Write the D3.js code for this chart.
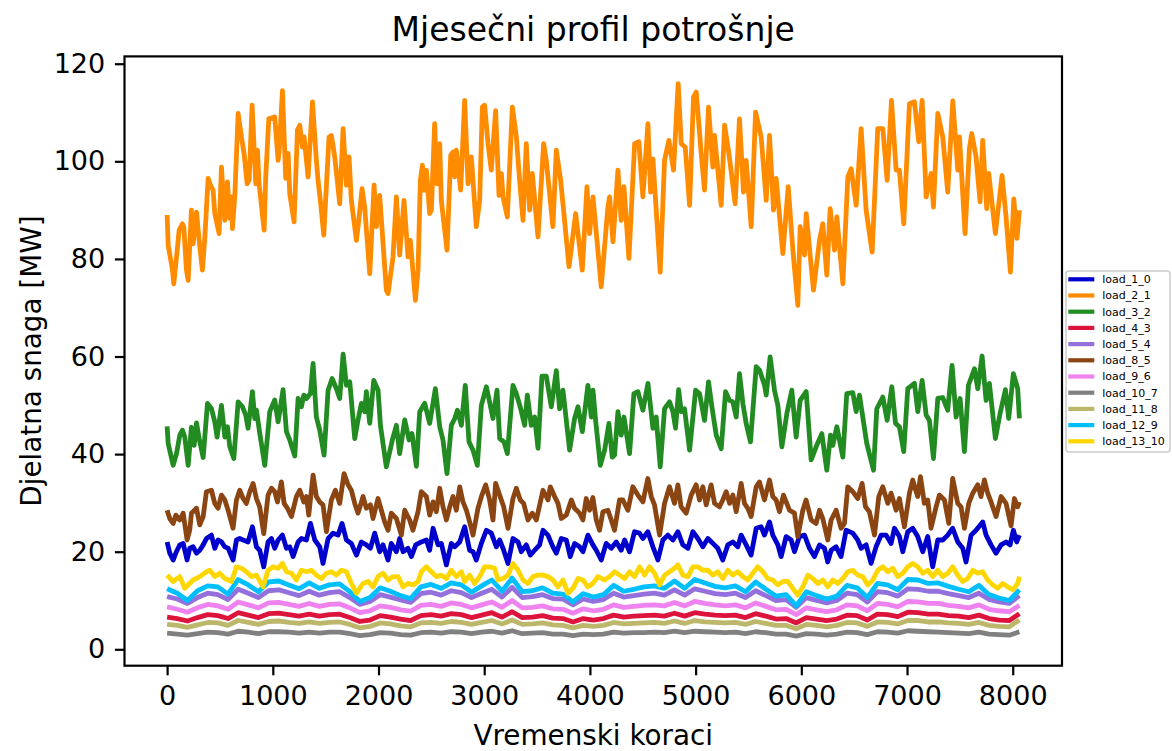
<!DOCTYPE html>
<html>
<head>
<meta charset="utf-8">
<script src="https://cdn.jsdelivr.net/npm/d3@7"></script>
<style>
  body { margin: 0; background: #fff; }
  text { font-family: "DejaVu Sans", sans-serif; fill: #000; }
</style>
</head>
<body>
<svg id="chart" width="1172" height="751"></svg>
<script>
// tick labels
const xTicks = [0, 1000, 2000, 3000, 4000, 5000, 6000, 7000, 8000];
const yTicks = [0, 20, 40, 60, 80, 100, 120];

const loadNames = ['load_1_0', 'load_2_1', 'load_3_2', 'load_4_3', 'load_5_4', 'load_8_5',
                   'load_9_6', 'load_10_7', 'load_11_8', 'load_12_9', 'load_13_10'];
const loadColors = ['#0000cd', '#ff8c00', '#228b22', '#dc143c', '#9370db', '#8b4513',
                    '#ee82ee', '#808080', '#bdb76b', '#00bfff', '#ffd700'];

// [time step, MW] (peaks and dips)
const load_2_1 = [[0,89.0],[10,82.8],[51,77.7],[63,74.9],[89,80.4],[114,85.9],[145,87.2],[158,86.5],[183,77.7],[199,75.6],
  [230,90.0],[246,83.1],[278,89.6],[303,83.8],[334,77.7],[357,84.5],[388,96.5],[410,95.1],[435,94.1],[451,89.3],
  [492,85.2],[514,98.8],[546,87.9],[571,95.8],[593,88.3],[609,92.7],[618,86.2],[640,92.7],[672,109.8],[703,105.0],
  [728,101.6],[757,95.4],[776,96.1],[804,111.5],[839,95.4],[855,102.3],[870,95.4],[918,85.9],[933,96.8],[962,108.7],
  [1018,109.1],[1050,100.2],[1059,101.9],[1091,114.5],[1122,96.5],[1145,101.6],[1160,93.4],[1201,87.6],[1233,106.4],[1255,107.4],
  [1280,102.9],[1296,105.0],[1334,96.8],[1375,112.2],[1412,100.2],[1428,96.1],[1453,91.3],[1482,84.9],[1532,105.0],[1554,105.3],
  [1586,100.9],[1633,91.3],[1665,106.7],[1696,95.1],[1721,100.9],[1743,92.0],[1791,83.8],[1813,87.9],[1844,94.4],[1869,90.6],
  [1917,77.0],[1958,95.1],[1980,86.6],[2011,93.0],[2074,73.6],[2090,72.9],[2137,80.4],[2169,92.7],[2200,80.8],[2241,92.0],
  [2279,80.4],[2301,83.8],[2349,71.5],[2374,77.7],[2396,96.1],[2415,99.2],[2430,94.1],[2453,98.2],[2484,89.3],[2500,90.0],
  [2531,107.7],[2553,95.4],[2579,103.6],[2594,92.0],[2648,81.8],[2683,101.2],[2705,101.9],[2721,96.8],[2736,102.3],[2777,94.1],
  [2815,112.5],[2847,95.4],[2878,100.9],[2925,86.6],[2957,92.0],[2982,111.1],[3004,111.5],[3036,103.6],[3067,98.2],[3108,110.4],
  [3140,93.0],[3162,97.5],[3178,92.7],[3219,88.6],[3266,111.1],[3304,105.0],[3335,96.1],[3367,87.9],[3398,103.6],[3430,90.0],
  [3455,97.5],[3509,84.5],[3562,103.6],[3587,100.2],[3650,86.6],[3682,102.3],[3723,96.1],[3754,89.3],[3802,78.4],[3865,89.3],
  [3928,77.7],[3972,94.8],[3997,85.2],[4029,92.7],[4107,74.3],[4170,90.6],[4186,92.7],[4218,83.5],[4265,98.2],[4296,87.9],
  [4322,94.8],[4369,80.1],[4423,103.6],[4463,104.0],[4501,92.7],[4549,107.7],[4574,93.7],[4596,100.5],[4665,77.3],[4706,100.2],
  [4747,104.3],[4791,98.2],[4835,115.9],[4864,103.6],[4902,102.9],[4943,91.0],[4980,113.2],[5006,114.2],[5053,101.6],[5084,94.1],
  [5122,111.1],[5163,98.8],[5179,105.3],[5242,91.0],[5274,107.4],[5315,101.6],[5374,91.3],[5415,108.7],[5453,93.7],[5478,100.2],
  [5526,86.6],[5567,110.1],[5620,105.0],[5668,92.0],[5699,105.3],[5737,90.0],[5762,96.5],[5825,81.1],[5876,94.8],[5920,81.8],
  [5967,70.5],[5989,86.6],[6030,80.8],[6046,89.3],[6115,73.6],[6172,83.8],[6203,87.2],[6241,76.7],[6273,90.3],[6314,81.8],
  [6336,88.6],[6393,74.9],[6440,96.8],[6471,98.5],[6519,91.0],[6566,106.7],[6613,90.0],[6670,81.4],[6723,106.7],[6771,106.7],
  [6812,96.1],[6853,112.5],[6897,98.2],[6928,98.2],[6969,87.2],[7023,111.8],[7070,112.2],[7111,104.0],[7143,112.5],[7181,92.7],
  [7228,97.5],[7250,90.6],[7291,109.8],[7338,105.0],[7385,93.7],[7433,112.4],[7480,98.2],[7496,105.0],[7549,85.2],[7590,102.6],
  [7612,105.7],[7653,100.9],[7691,91.7],[7716,104.3],[7754,90.3],[7773,97.5],[7836,85.2],[7899,97.1],[7937,88.6],[7978,77.3],
  [8010,92.3],[8041,84.2],[8063,90.0]];

const load_3_2 = [[0,45.7],[10,42.2],[57,37.7],[89,40.1],[120,43.9],[145,44.9],[167,43.5],[199,37.7],[230,45.5],[256,41.8],
  [278,46.4],[303,43.2],[341,39.3],[382,50.4],[420,49.3],[451,46.6],[473,43.5],[514,50.0],[546,43.5],[571,45.6],
  [593,41.5],[631,39.1],[672,50.7],[713,49.7],[744,48.0],[766,45.3],[807,52.8],[829,47.3],[845,49.0],[877,44.2],
  [924,37.7],[971,48.7],[1018,51.1],[1050,46.6],[1097,53.2],[1129,44.6],[1160,42.9],[1208,39.6],[1239,51.4],[1271,49.7],
  [1293,52.1],[1318,51.4],[1356,52.4],[1381,58.6],[1412,47.6],[1444,44.9],[1485,39.8],[1523,53.1],[1561,55.5],[1602,53.4],
  [1633,51.4],[1665,60.5],[1696,54.1],[1728,54.8],[1775,43.2],[1806,47.0],[1838,50.4],[1869,48.7],[1885,52.8],[1917,46.3],
  [1955,55.1],[1996,53.1],[2018,45.9],[2074,37.4],[2131,42.9],[2169,45.9],[2200,40.1],[2248,47.0],[2289,42.9],[2317,44.2],
  [2358,37.5],[2390,48.7],[2437,50.4],[2484,46.3],[2538,53.4],[2579,45.6],[2610,42.9],[2648,36.0],[2689,45.9],[2721,47.3],
  [2746,49.0],[2784,45.9],[2821,54.1],[2856,42.5],[2894,40.8],[2935,37.7],[2973,50.0],[3020,53.8],[3051,50.7],[3083,47.3],
  [3121,53.1],[3146,43.2],[3187,42.5],[3219,40.1],[3272,54.1],[3304,52.4],[3345,49.3],[3382,45.9],[3408,52.1],[3445,45.9],
  [3477,47.6],[3509,41.2],[3546,56.0],[3587,56.0],[3635,49.7],[3682,57.1],[3713,49.3],[3745,53.1],[3808,40.8],[3855,47.3],
  [3887,49.7],[3928,44.6],[3981,54.1],[4013,47.6],[4029,53.1],[4054,46.9],[4098,37.7],[4139,40.8],[4180,46.3],[4211,39.4],
  [4233,39.8],[4265,48.7],[4296,43.9],[4322,47.6],[4375,40.1],[4416,52.4],[4454,52.8],[4501,49.0],[4549,54.5],[4596,45.3],
  [4627,47.6],[4665,37.4],[4706,49.3],[4753,50.7],[4785,48.7],[4810,45.3],[4839,53.2],[4864,48.7],[4895,49.3],[4943,40.8],
  [5000,53.1],[5037,52.4],[5084,46.9],[5122,54.8],[5154,49.7],[5195,43.9],[5242,41.1],[5283,52.8],[5321,51.0],[5352,50.7],
  [5384,47.6],[5415,56.5],[5447,50.4],[5478,46.3],[5519,42.5],[5573,57.9],[5605,57.2],[5652,54.1],[5668,52.1],[5705,59.9],
  [5746,53.1],[5778,50.0],[5816,41.5],[5863,48.3],[5910,53.1],[5951,43.5],[5989,51.0],[6046,52.8],[6093,38.8],[6140,41.5],
  [6194,44.2],[6241,36.7],[6276,43.9],[6298,41.8],[6336,45.6],[6393,39.4],[6430,52.4],[6487,52.6],[6519,48.7],[6550,52.1],
  [6619,42.2],[6683,36.7],[6714,49.3],[6771,51.7],[6812,46.9],[6856,53.8],[6891,46.3],[6928,45.6],[6969,40.5],[7007,53.4],
  [7070,54.5],[7102,48.7],[7143,55.1],[7181,48.0],[7212,46.9],[7250,39.1],[7291,51.4],[7338,51.6],[7385,49.0],[7426,58.2],
  [7464,47.6],[7502,51.4],[7543,40.5],[7581,54.1],[7638,57.5],[7669,53.4],[7710,60.1],[7748,51.0],[7779,54.5],[7836,43.2],
  [7880,48.3],[7931,53.2],[7962,47.3],[8006,56.5],[8047,53.4],[8063,47.3]];

const load_8_5 = [[0,28.5],[25,26.8],[57,25.8],[82,27.5],[120,26.5],[152,27.9],[189,22.4],[214,24.4],[230,27.9],[278,28.9],
  [309,25.5],[341,27.2],[372,32.3],[419,32.6],[451,29.9],[482,28.9],[514,31.6],[546,30.6],[577,28.5],[624,24.8],
  [656,30.6],[687,32.6],[719,30.9],[750,29.9],[782,32.3],[813,34.0],[845,30.9],[876,29.2],[914,23.7],[955,31.6],
  [987,33.0],[1018,32.3],[1044,30.2],[1081,34.3],[1107,29.9],[1138,28.9],[1176,27.2],[1223,31.3],[1255,32.6],[1293,30.2],
  [1318,31.3],[1340,27.5],[1381,35.7],[1412,31.3],[1444,30.2],[1475,29.6],[1507,24.1],[1554,30.6],[1592,32.6],[1633,29.9],
  [1674,36.0],[1712,33.7],[1743,32.6],[1775,29.9],[1806,27.9],[1854,31.3],[1885,28.9],[1923,29.6],[1948,26.8],[1995,30.9],
  [2027,28.5],[2058,26.1],[2090,24.4],[2121,27.9],[2169,26.8],[2216,23.4],[2248,28.5],[2295,26.5],[2326,24.4],[2374,28.2],
  [2405,32.3],[2453,31.3],[2484,27.5],[2516,30.2],[2547,28.2],[2579,33.0],[2610,29.2],[2642,26.5],[2674,29.2],[2705,31.3],
  [2736,28.5],[2768,33.3],[2799,30.2],[2831,28.5],[2862,26.1],[2894,23.4],[2941,28.9],[2973,31.3],[3014,33.7],[3051,30.6],
  [3083,26.5],[3108,34.0],[3146,31.6],[3184,29.2],[3225,24.8],[3272,30.9],[3304,33.0],[3341,30.6],[3373,29.9],[3414,26.5],
  [3455,27.9],[3493,26.5],[3556,32.6],[3603,30.6],[3625,33.3],[3666,31.3],[3698,29.9],[3729,26.8],[3777,27.5],[3824,30.6],
  [3855,28.9],[3902,27.9],[3934,26.5],[3965,30.9],[3997,28.5],[4028,31.1],[4060,26.5],[4091,24.4],[4123,28.2],[4170,28.5],
  [4202,26.5],[4233,24.4],[4280,30.6],[4312,30.6],[4359,28.5],[4406,33.3],[4454,31.6],[4501,30.2],[4548,35.0],[4580,31.3],
  [4611,29.6],[4659,23.4],[4706,29.9],[4753,33.3],[4800,29.9],[4832,33.7],[4863,29.2],[4911,27.9],[4958,31.6],[5005,33.7],
  [5037,30.6],[5068,33.3],[5100,29.6],[5147,33.7],[5179,29.9],[5226,29.2],[5257,30.6],[5289,32.3],[5321,29.9],[5352,31.6],
  [5384,28.2],[5431,34.0],[5462,29.9],[5494,28.9],[5525,27.2],[5573,33.3],[5604,34.3],[5651,30.6],[5699,34.7],[5730,31.3],
  [5762,30.6],[5793,28.2],[5831,31.6],[5888,28.5],[5935,27.9],[5967,23.1],[6014,28.5],[6045,30.6],[6093,26.5],[6140,25.8],
  [6172,28.5],[6203,26.8],[6250,22.4],[6282,26.5],[6329,28.5],[6376,24.8],[6408,25.8],[6439,33.3],[6487,32.3],[6534,30.9],
  [6575,34.0],[6607,29.2],[6644,28.2],[6692,23.4],[6733,31.3],[6770,33.3],[6818,29.9],[6849,32.0],[6897,28.5],[6928,30.9],
  [6975,25.1],[7023,32.0],[7054,34.7],[7101,31.3],[7127,35.4],[7164,29.9],[7196,30.6],[7227,24.8],[7275,29.2],[7306,31.6],
  [7354,30.6],[7395,25.8],[7432,35.0],[7480,29.9],[7511,29.2],[7543,24.8],[7584,29.9],[7622,32.0],[7669,33.7],[7700,31.3],
  [7732,34.7],[7763,32.0],[7795,30.2],[7842,27.2],[7890,31.3],[7937,29.9],[7984,25.3],[8016,30.9],[8047,29.2],[8063,30.2]];

const load_1_0 = [[0,22.0],[25,19.7],[57,18.3],[88,20.0],[120,21.4],[152,21.7],[189,18.3],[214,20.7],[246,21.0],[278,19.7],
  [309,20.3],[341,21.4],[372,22.7],[419,23.4],[451,20.7],[482,22.4],[514,22.0],[546,21.0],[577,20.7],[624,18.3],
  [656,22.4],[687,22.7],[719,22.4],[766,22.0],[807,25.1],[845,21.0],[876,20.3],[914,16.9],[955,22.0],[987,22.7],
  [1018,20.7],[1050,22.4],[1091,23.4],[1129,20.7],[1160,21.0],[1192,19.0],[1239,22.0],[1271,22.7],[1318,22.4],[1356,25.8],
  [1397,22.4],[1444,21.0],[1475,17.6],[1523,22.7],[1570,23.8],[1617,23.4],[1655,25.8],[1696,22.4],[1743,21.7],[1791,19.3],
  [1838,22.0],[1885,21.4],[1923,20.7],[1964,23.8],[2011,20.0],[2043,21.4],[2090,18.3],[2121,21.7],[2169,20.0],[2200,22.7],
  [2232,20.0],[2279,20.7],[2311,19.0],[2352,21.4],[2405,22.0],[2453,22.4],[2484,20.3],[2516,24.8],[2563,21.4],[2594,21.7],
  [2642,17.3],[2689,21.7],[2721,21.0],[2768,22.0],[2815,25.1],[2862,20.3],[2894,20.0],[2925,18.3],[2973,21.7],[3020,24.4],
  [3067,23.8],[3115,21.0],[3146,22.4],[3178,20.7],[3225,17.6],[3272,22.7],[3320,22.0],[3351,20.0],[3398,21.4],[3436,19.3],
  [3477,20.3],[3524,21.4],[3556,24.4],[3603,23.4],[3650,21.0],[3682,19.7],[3729,22.7],[3777,22.4],[3814,19.0],[3855,21.7],
  [3902,21.0],[3934,20.0],[3981,23.4],[4028,21.4],[4060,20.3],[4107,18.3],[4154,21.7],[4202,20.7],[4249,22.0],[4296,20.3],
  [4328,22.4],[4375,20.0],[4422,24.1],[4469,23.8],[4501,22.7],[4548,24.1],[4596,21.0],[4643,18.3],[4690,22.4],[4737,23.4],
  [4785,22.4],[4832,24.1],[4879,21.4],[4927,20.7],[4974,24.1],[5021,22.7],[5068,21.0],[5116,22.7],[5163,21.7],[5210,20.7],
  [5257,18.3],[5305,21.4],[5352,22.0],[5399,21.0],[5431,23.4],[5478,21.4],[5525,19.3],[5573,24.8],[5620,25.1],[5651,23.4],
  [5699,26.1],[5730,23.4],[5778,21.4],[5809,19.0],[5856,23.1],[5904,22.4],[5935,20.0],[5982,23.1],[6030,23.4],[6077,20.7],
  [6124,19.0],[6172,21.4],[6219,20.7],[6250,17.9],[6282,20.3],[6329,21.0],[6376,19.0],[6424,24.4],[6487,23.8],[6534,22.4],
  [6566,20.7],[6613,21.4],[6660,17.6],[6707,21.0],[6755,23.4],[6802,23.4],[6849,21.7],[6881,24.8],[6928,23.1],[6960,20.0],
  [7007,24.1],[7054,24.8],[7101,23.1],[7149,20.0],[7196,23.1],[7243,16.9],[7291,22.4],[7338,22.4],[7385,23.4],[7432,24.8],
  [7480,22.0],[7527,20.7],[7558,17.9],[7606,23.4],[7653,24.4],[7716,26.1],[7748,23.4],[7795,21.4],[7842,19.7],[7890,21.4],
  [7937,22.0],[7975,21.4],[8006,24.4],[8038,22.0],[8063,23.4]];

const load_13_10 = [[0,15.2],[57,13.9],[120,14.9],[167,12.5],[246,14.2],[309,14.9],[372,15.9],[404,16.2],[451,14.9],[498,15.6],
  [546,14.5],[609,13.9],[656,16.9],[703,16.6],[750,15.9],[798,14.9],[845,15.2],[908,12.8],[955,16.2],[1003,16.9],
  [1050,16.6],[1091,17.6],[1129,15.9],[1176,15.6],[1223,14.2],[1270,16.2],[1318,15.9],[1365,16.2],[1412,15.2],[1460,14.5],
  [1507,15.6],[1554,15.9],[1601,15.2],[1649,16.2],[1696,15.9],[1743,13.5],[1791,11.5],[1854,13.5],[1901,13.9],[1948,12.8],
  [1995,14.9],[2043,15.6],[2090,14.2],[2137,14.9],[2185,14.9],[2232,12.8],[2279,13.5],[2326,13.2],[2374,13.9],[2405,15.9],
  [2453,16.9],[2500,15.9],[2547,14.9],[2594,15.2],[2642,14.5],[2689,16.2],[2736,14.9],[2784,15.9],[2815,13.9],[2862,15.2],
  [2909,13.5],[2957,14.9],[3004,16.9],[3051,16.9],[3099,16.6],[3130,14.2],[3178,14.5],[3225,15.2],[3272,17.6],[3320,16.2],
  [3367,14.2],[3414,13.5],[3461,14.9],[3508,15.2],[3556,15.2],[3603,14.9],[3650,14.2],[3698,12.8],[3745,14.2],[3792,11.5],
  [3839,12.5],[3887,14.5],[3934,14.2],[3981,12.8],[4028,13.5],[4076,14.9],[4139,14.2],[4186,14.9],[4233,15.9],[4280,15.2],
  [4328,14.5],[4375,15.9],[4422,14.9],[4470,16.9],[4517,15.2],[4564,16.9],[4611,15.6],[4659,13.2],[4706,15.2],[4753,15.9],
  [4800,16.6],[4832,17.3],[4879,15.2],[4927,14.9],[4974,16.9],[5021,16.9],[5068,16.2],[5116,16.2],[5163,15.2],[5210,15.9],
  [5257,14.5],[5305,16.2],[5352,15.2],[5399,15.9],[5447,14.9],[5494,14.2],[5541,15.6],[5588,16.9],[5636,15.9],[5683,14.5],
  [5730,14.2],[5778,13.2],[5825,13.9],[5872,13.9],[5919,12.5],[5967,11.1],[6014,12.8],[6061,15.2],[6109,14.5],[6156,13.5],
  [6203,14.2],[6250,12.8],[6298,14.2],[6345,13.5],[6392,14.5],[6440,15.9],[6487,16.2],[6534,15.2],[6581,14.9],[6629,13.2],
  [6676,14.2],[6723,16.2],[6771,16.9],[6818,15.9],[6865,16.6],[6912,14.9],[6960,15.6],[7007,16.9],[7054,17.6],[7101,16.9],
  [7149,15.6],[7196,16.2],[7243,14.9],[7291,16.2],[7338,14.9],[7385,15.6],[7432,16.9],[7480,15.2],[7527,13.9],[7574,14.5],
  [7622,16.2],[7669,15.6],[7716,15.9],[7763,14.2],[7811,13.2],[7858,12.5],[7905,13.5],[7952,12.8],[7999,12.2],[8047,13.5],
  [8063,14.9]];

// smaller loads, read every 96 steps (last one at 8063)
const gridSteps = d3.range(0, 8064, 96).concat([8063]);
const load_12_9 = [12.4,11.5,10.0,12.0,13.0,12.8,11.3,14.3,13.2,11.8,
  13.8,14.0,13.2,12.4,13.6,12.5,13.2,13.4,11.8,9.8,
  10.6,12.6,11.9,11.0,10.4,12.8,13.3,12.5,13.6,13.2,
  11.7,13.0,14.2,11.9,14.6,11.8,12.0,12.6,11.5,11.3,
  9.7,11.4,10.7,11.2,13.1,11.9,12.3,12.8,13.0,12.5,
  14.0,12.5,14.3,13.6,12.9,12.6,13.0,11.8,13.8,12.3,
  10.9,11.2,8.9,11.8,11.0,10.3,10.9,13.1,12.6,10.6,
  13.5,13.2,12.2,14.3,14.2,13.5,13.6,12.9,12.3,11.8,
  13.1,11.2,10.5,10.0,12.2];
const load_5_4 = [10.8,10.3,9.4,10.6,11.5,11.2,10.2,12.3,11.5,10.6,
  12.0,12.2,11.6,11.0,11.9,11.1,11.6,11.8,10.6,9.2,
  9.8,11.2,10.7,10.1,9.6,11.4,11.7,11.1,12.0,11.6,
  10.6,11.5,12.3,10.7,12.7,10.6,10.8,11.2,10.4,10.3,
  9.1,10.3,9.8,10.2,11.5,10.7,11.0,11.3,11.5,11.1,
  12.2,11.1,12.4,11.9,11.4,11.2,11.5,10.6,12.0,11.0,
  10.0,10.2,8.6,10.6,10.0,9.5,10.0,11.5,11.2,9.7,
  11.8,11.6,10.9,12.4,12.3,11.9,11.9,11.4,11.0,10.6,
  11.5,10.2,9.7,9.4,11.0];
const load_9_6 = [8.7,8.2,7.6,8.5,9.2,8.9,8.2,9.7,9.1,8.5,
  9.5,9.6,9.2,8.8,9.4,8.8,9.2,9.3,8.5,7.5,
  7.9,8.9,8.6,8.1,7.8,9.0,9.2,8.8,9.5,9.2,
  8.5,9.1,9.7,8.6,10.0,8.5,8.6,8.9,8.3,8.2,
  7.4,8.3,7.9,8.2,9.1,8.6,8.8,9.0,9.1,8.9,
  9.6,8.9,9.8,9.4,9.1,8.9,9.1,8.5,9.5,8.8,
  8.1,8.2,7.1,8.5,8.1,7.7,8.1,9.1,8.9,7.9,
  9.4,9.2,8.7,9.8,9.7,9.4,9.4,9.0,8.8,8.5,
  9.1,8.2,7.9,7.7,9.0];
const load_4_3 = [6.6,6.3,5.8,6.5,7.1,6.9,6.3,7.5,7.0,6.5,
  7.3,7.4,7.1,6.8,7.2,6.8,7.1,7.2,6.5,5.7,
  6.0,6.9,6.6,6.2,5.9,6.9,7.1,6.8,7.3,7.1,
  6.5,7.0,7.5,6.6,7.7,6.5,6.6,6.9,6.4,6.3,
  5.6,6.3,6.0,6.3,7.0,6.6,6.8,6.9,7.0,6.8,
  7.4,6.8,7.5,7.2,7.0,6.9,7.0,6.5,7.3,6.8,
  6.2,6.3,5.4,6.5,6.2,5.9,6.2,7.0,6.9,6.0,
  7.2,7.1,6.7,7.6,7.5,7.2,7.2,6.9,6.8,6.5,
  7.0,6.3,6.0,5.9,7.3];
const load_11_8 = [5.1,4.9,4.5,5.0,5.5,5.4,4.9,5.9,5.5,5.1,
  5.7,5.8,5.5,5.3,5.6,5.3,5.5,5.6,5.1,4.4,
  4.7,5.4,5.2,4.8,4.6,5.4,5.5,5.3,5.7,5.5,
  5.1,5.5,5.9,5.2,6.0,5.1,5.2,5.4,5.0,4.9,
  4.4,4.9,4.7,4.9,5.5,5.2,5.3,5.4,5.5,5.3,
  5.8,5.3,5.9,5.6,5.5,5.4,5.5,5.1,5.7,5.3,
  4.9,4.9,4.2,5.1,4.9,4.6,4.9,5.5,5.4,4.7,
  5.6,5.5,5.2,5.9,5.9,5.6,5.6,5.4,5.3,5.1,
  5.5,4.9,4.7,4.6,6.0];
const load_10_7 = [3.3,3.1,2.9,3.2,3.5,3.4,3.1,3.7,3.5,3.2,
  3.6,3.6,3.5,3.3,3.5,3.3,3.5,3.5,3.2,2.8,
  3.0,3.4,3.3,3.0,2.9,3.4,3.5,3.3,3.6,3.5,
  3.2,3.5,3.7,3.3,3.8,3.2,3.3,3.4,3.1,3.1,
  2.8,3.1,3.0,3.1,3.5,3.3,3.4,3.4,3.5,3.4,
  3.7,3.4,3.7,3.6,3.5,3.4,3.5,3.2,3.6,3.4,
  3.1,3.1,2.7,3.2,3.1,2.9,3.1,3.5,3.4,3.0,
  3.6,3.5,3.3,3.8,3.7,3.6,3.5,3.4,3.3,3.2,
  3.5,3.1,3.0,2.9,3.6];

const onGrid = vals => gridSteps.map((s, i) => [s, vals[i]]);
const seriesPoints = [load_1_0, load_2_1, load_3_2, onGrid(load_4_3), onGrid(load_5_4), load_8_5,
                      onGrid(load_9_6), onGrid(load_10_7), onGrid(load_11_8), onGrid(load_12_9), load_13_10];
const series = loadNames.map((name, i) => ({ name: name, color: loadColors[i], points: seriesPoints[i] }));

// layout
const svg = d3.select('#chart');
const box = { left: 124.5, right: 1062, top: 56.4, bottom: 665.7 };
const lineWidth = 4.8;

const x = d3.scaleLinear().domain([-403.15, 8466.15]).range([box.left, box.right]);
const y = d3.scaleLinear().domain([-3.36, 121.5]).range([box.bottom, box.top]);

const line = d3.line().x(d => x(d[0])).y(d => y(d[1]));

svg.append('g')
  .selectAll('path')
  .data(series)
  .join('path')
  .attr('d', d => line(d.points))
  .attr('fill', 'none')
  .attr('stroke', d => d.color)
  .attr('stroke-width', lineWidth)
  .attr('stroke-linejoin', 'round');

// axes
const xAxis = d3.axisBottom(x).tickValues(xTicks).tickFormat(d3.format('d'))
  .tickSize(9.6).tickPadding(11);
const yAxis = d3.axisLeft(y).tickValues(yTicks).tickFormat(d3.format('d'))
  .tickSize(9.6).tickPadding(9.7);

const gx = svg.append('g').attr('transform', `translate(0,${box.bottom})`).call(xAxis);
const gy = svg.append('g').attr('transform', `translate(${box.left},0)`).call(yAxis);
[gx, gy].forEach(g => {
  g.select('.domain').remove();
  g.selectAll('.tick line').attr('stroke', '#000').attr('stroke-width', 2.2);
  g.selectAll('.tick text').attr('font-family', 'DejaVu Sans').attr('font-size', 27).attr('fill', '#000');
});

// frame
svg.append('rect')
  .attr('x', box.left).attr('y', box.top)
  .attr('width', box.right - box.left).attr('height', box.bottom - box.top)
  .attr('fill', 'none').attr('stroke', '#000').attr('stroke-width', 2.2);

// titles
svg.append('text')
  .attr('x', (box.left + box.right) / 2).attr('y', 41)
  .attr('text-anchor', 'middle').attr('font-size', 33)
  .text('Mjesečni profil potrošnje');

svg.append('text')
  .attr('x', (box.left + box.right) / 2).attr('y', 745)
  .attr('text-anchor', 'middle').attr('font-size', 27.8)
  .text('Vremenski koraci');

svg.append('text')
  .attr('transform', `translate(41,${(box.top + box.bottom) / 2}) rotate(-90)`)
  .attr('text-anchor', 'middle').attr('font-size', 27.8)
  .text('Djelatna snaga [MW]');

// legend
const legend = svg.append('g').attr('transform', 'translate(1066,271)');
legend.append('rect')
  .attr('width', 104).attr('height', 181).attr('rx', 3)
  .attr('fill', '#fff').attr('fill-opacity', 0.8)
  .attr('stroke', '#cccccc').attr('stroke-width', 1.5);

const item = legend.selectAll('g.item')
  .data(series)
  .join('g')
  .attr('class', 'item')
  .attr('transform', (d, i) => `translate(0,${8.3 + i * 16.2})`);
item.append('line')
  .attr('x1', 2.3).attr('x2', 28.3)
  .attr('stroke', d => d.color).attr('stroke-width', 4.2);
item.append('text')
  .attr('x', 36.3).attr('dy', '0.35em')
  .attr('font-size', 11)
  .text(d => d.name);
</script>
</body>
</html>
